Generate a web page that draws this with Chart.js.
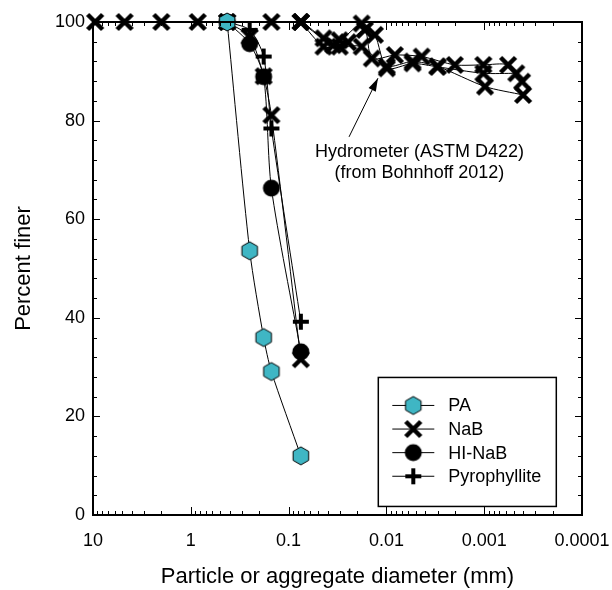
<!DOCTYPE html>
<html>
<head>
<meta charset="utf-8">
<script src="https://cdn.jsdelivr.net/npm/chart.js@4.4.1/dist/chart.umd.min.js"></script>
<style>
  html, body { margin: 0; padding: 0; background: #fff; }
  #wrap { width: 612px; height: 590px; }
</style>
</head>
<body>
<div id="wrap"><canvas id="psd" width="612" height="590"></canvas></div>
<script>
// Grain size distributions (percent finer vs. diameter, mm)

const sieveSizes = [0.425, 0.25, 0.18, 0.15, 0.075];
const paFiner = [100, 53.6, 36.0, 29.1, 12.0];
const nabFiner = [100, 97.0, 89.0, 81.1, 31.6];
const hiNabFiner = [100, 95.6, 88.9, 66.3, 33.1];
const pyroFiner = [100, 98.4, 93.0, 78.4, 39.2];

// Bohnhoff (2012) NaB, sieve + hydrometer runs
const hydroSizesA = [9.5, 4.75, 2.0, 0.85, 0.425, 0.15, 0.075, 0.044, 0.030, 0.0179, 0.0131, 0.0099, 0.0054, 0.0030, 0.00102, 0.00047];
const hydroFinerA = [100, 100, 100, 100, 100, 100, 100, 96.7, 96.3, 99.7, 97.4, 90.6, 91.6, 90.9, 89.6, 89.6];
const hydroSizesB = [0.075, 0.035, 0.0247, 0.0166, 0.0141, 0.0082, 0.00436, 0.0020, 0.00102, 0.00057, 0.00041];
const hydroFinerB = [100, 95.3, 95.9, 98.4, 92.6, 93.3, 93.0, 91.3, 91.3, 91.3, 87.9];
const hydroSizesC = [0.075, 0.044, 0.030, 0.0179, 0.0099, 0.0054, 0.0030, 0.00098, 0.00040];
const hydroFinerC = [100, 95.0, 95.0, 95.0, 91.0, 92.0, 91.0, 86.9, 85.2];

const xTickValues = [10, 1, 0.1, 0.01, 0.001, 0.0001];
const xTickLabels = ['10', '1', '0.1', '0.01', '0.001', '0.0001'];
const yTickValues = [0, 20, 40, 60, 80, 100];

const legendLabels = ['PA', 'NaB', 'HI-NaB', 'Pyrophyllite'];
const noteLines = ['Hydrometer (ASTM D422)', '(from Bohnhoff 2012)'];

const CYAN = '#3fb6c4';
const FONT = 'Arial, "Liberation Sans", Helvetica, sans-serif';

// --- marker sprites ---
function sprite(size, draw) {
    const c = document.createElement('canvas');
    c.width = size; c.height = size;
    const g = c.getContext('2d');
    g.translate(size / 2, size / 2);
    draw(g);
    return c;
}

const hexMarker = sprite(22, g => {
    const r = 9;
    g.beginPath();
    for (let i = 0; i < 6; i++) {
        const a = Math.PI / 3 * i - Math.PI / 2;
        const px = r * Math.cos(a), py = r * Math.sin(a);
        i ? g.lineTo(px, py) : g.moveTo(px, py);
    }
    g.closePath();
    g.fillStyle = CYAN;
    g.fill();
    g.lineWidth = 1;
    g.strokeStyle = '#000';
    g.stroke();
});

const xMarker = sprite(22, g => {
    g.strokeStyle = '#000';
    g.lineWidth = 4.5;
    g.beginPath();
    g.moveTo(-7.5, -7.5); g.lineTo(7.5, 7.5);
    g.moveTo(7.5, -7.5); g.lineTo(-7.5, 7.5);
    g.stroke();
});

const dotMarker = sprite(22, g => {
    g.fillStyle = '#000';
    g.beginPath();
    g.arc(0, 0, 8.5, 0, Math.PI * 2);
    g.fill();
});

const plusMarker = sprite(22, g => {
    g.strokeStyle = '#000';
    g.lineWidth = 4;
    g.beginPath();
    g.moveTo(-8, 0); g.lineTo(8, 0);
    g.moveTo(0, -8); g.lineTo(0, 8);
    g.stroke();
});

const legendMarkers = [hexMarker, xMarker, dotMarker, plusMarker];

function pts(xs, ys) {
    return xs.map((x, i) => ({ x: x, y: ys[i] }));
}

function series(label, xs, ys, marker) {
    return {
        label: label,
        data: pts(xs, ys),
        pointStyle: marker,
        borderColor: '#000',
        borderWidth: 1,
        backgroundColor: '#000',
        tension: 0.25,
        clip: false,
        pointHoverRadius: 0
    };
}

// --- frame, inward ticks, legend and note ---
const decorPlugin = {
    id: 'decor',
    afterDatasetsDraw(chart) {
        const ctx = chart.ctx;
        const { left, right, top, bottom } = chart.chartArea;
        const xs = chart.scales.x, ys = chart.scales.y;
        ctx.save();
        ctx.strokeStyle = '#000';

        // frame
        ctx.lineWidth = 2;
        ctx.strokeRect(left, top, right - left, bottom - top);

        // x ticks (decades + minors), bottom and top
        ctx.lineWidth = 1;
        ctx.beginPath();
        for (let e = -4; e <= 1; e++) {
            const dec = Math.pow(10, e);
            const px = Math.round(xs.getPixelForValue(dec)) + 0.5;
            ctx.moveTo(px, bottom); ctx.lineTo(px, bottom - 8);
            ctx.moveTo(px, top); ctx.lineTo(px, top + 8);
            if (e < 1) {
                for (let m = 2; m <= 9; m++) {
                    const mx = Math.round(xs.getPixelForValue(m * dec)) + 0.5;
                    ctx.moveTo(mx, bottom); ctx.lineTo(mx, bottom - 4);
                    ctx.moveTo(mx, top); ctx.lineTo(mx, top + 4);
                }
            }
        }
        // y ticks, left and right
        for (let v = 0; v <= 100; v += 4) {
            const py = Math.round(ys.getPixelForValue(v)) + 0.5;
            const len = v % 20 === 0 ? 7 : 4;
            ctx.moveTo(left, py); ctx.lineTo(left + len, py);
            ctx.moveTo(right, py); ctx.lineTo(right - len, py);
        }
        ctx.stroke();

        // note with arrow, anchored in data space
        const tail = { x: xs.getPixelForValue(0.0241), y: ys.getPixelForValue(76.7) };
        const tip = { x: xs.getPixelForValue(0.0122), y: ys.getPixelForValue(88.6) };
        ctx.lineWidth = 1;
        ctx.beginPath();
        ctx.moveTo(tail.x, tail.y);
        ctx.lineTo(tip.x, tip.y);
        ctx.stroke();
        const ang = Math.atan2(tip.y - tail.y, tip.x - tail.x);
        ctx.fillStyle = '#000';
        ctx.beginPath();
        ctx.moveTo(tip.x, tip.y);
        ctx.lineTo(tip.x - 13 * Math.cos(ang) + 4 * Math.sin(ang), tip.y - 13 * Math.sin(ang) - 4 * Math.cos(ang));
        ctx.lineTo(tip.x - 13 * Math.cos(ang) - 4 * Math.sin(ang), tip.y - 13 * Math.sin(ang) + 4 * Math.cos(ang));
        ctx.closePath();
        ctx.fill();

        ctx.font = '18px ' + FONT;
        ctx.textAlign = 'center';
        ctx.textBaseline = 'middle';
        const nx = xs.getPixelForValue(0.00459);
        ctx.fillText(noteLines[0], nx, ys.getPixelForValue(73.6));
        ctx.fillText(noteLines[1], nx, ys.getPixelForValue(69.4));

        // legend box, lower right of the plot
        const bx = xs.getPixelForValue(0.0121), by = ys.getPixelForValue(27.9);
        const bw = 178, bh = 129;
        ctx.fillStyle = '#fff';
        ctx.fillRect(bx, by, bw, bh);
        ctx.lineWidth = 1.5;
        ctx.strokeRect(bx, by, bw, bh);
        ctx.textAlign = 'left';
        ctx.fillStyle = '#000';
        legendLabels.forEach((lab, i) => {
            const ly = by + 28 + i * 23.6;
            ctx.lineWidth = 1;
            ctx.beginPath();
            ctx.moveTo(bx + 14, ly); ctx.lineTo(bx + 56, ly);
            ctx.stroke();
            const mk = legendMarkers[i];
            ctx.drawImage(mk, bx + 35 - mk.width / 2, ly - mk.height / 2);
            ctx.fillText(lab, bx + 70, ly + 1);
        });
        ctx.restore();
    }
};

const hydroA = series('NaB hydrometer A', hydroSizesA, hydroFinerA, xMarker);
const hydroB = series('NaB hydrometer B', hydroSizesB, hydroFinerB, xMarker);
const hydroC = series('NaB hydrometer C', hydroSizesC, hydroFinerC, xMarker);

new Chart(document.getElementById('psd'), {
    type: 'line',
    data: {
        datasets: [
            series('PA', sieveSizes, paFiner, hexMarker),
            series('HI-NaB', sieveSizes, hiNabFiner, dotMarker),
            series('Pyrophyllite', sieveSizes, pyroFiner, plusMarker),
            series('NaB', sieveSizes, nabFiner, xMarker),
            hydroA, hydroB, hydroC
        ]
    },
    options: {
        responsive: false,
        animation: false,
        devicePixelRatio: 1,
        layout: { padding: { top: 22, right: 30, left: 0, bottom: 0 } },
        plugins: {
            legend: { display: false },
            tooltip: { enabled: false }
        },
        scales: {
            x: {
                type: 'logarithmic',
                reverse: true,
                min: 0.0001,
                max: 10,
                grid: { display: false, drawTicks: false },
                border: { display: false },
                afterBuildTicks: s => { s.ticks = xTickValues.map(v => ({ value: v })); },
                afterFit: s => { s.height = 75; s.paddingLeft = 0; s.paddingRight = 0; },
                ticks: {
                    autoSkip: false,
                    maxRotation: 0,
                    padding: 15,
                    color: '#000',
                    font: { family: FONT, size: 18 },
                    callback: v => xTickLabels[xTickValues.indexOf(v)]
                },
                title: {
                    display: true,
                    text: 'Particle or aggregate diameter (mm)',
                    color: '#000',
                    font: { family: FONT, size: 22 },
                    padding: { top: 0, bottom: 0 }
                }
            },
            y: {
                min: 0,
                max: 100,
                grid: { display: false, drawTicks: false },
                border: { display: false },
                afterBuildTicks: s => { s.ticks = yTickValues.map(v => ({ value: v })); },
                afterFit: s => { s.width = 93; s.paddingTop = 0; s.paddingBottom = 0; },
                ticks: {
                    padding: 8,
                    color: '#000',
                    font: { family: FONT, size: 18 }
                },
                title: {
                    display: true,
                    text: 'Percent finer',
                    color: '#000',
                    font: { family: FONT, size: 22 },
                    padding: { top: 11, bottom: 0 }
                }
            }
        }
    },
    plugins: [decorPlugin]
});
</script>
</body>
</html>
